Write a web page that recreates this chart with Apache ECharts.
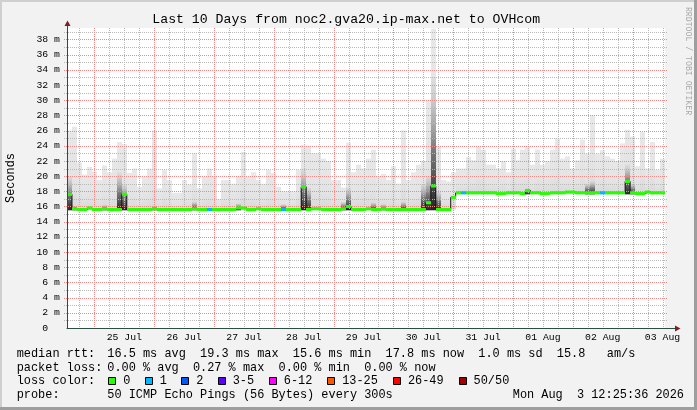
<!DOCTYPE html>
<html>
<head>
<meta charset="utf-8">
<script src="https://cdn.jsdelivr.net/npm/echarts@6.0.0/dist/echarts.min.js"></script>
<style>
html,body{margin:0;padding:0;background:#f2f2f2;}
#c{width:697px;height:410px;}
</style>
</head>
<body>
<div id="c"></div>
<script>
// ---------- data ----------
const dayLabels = ['25 Jul','26 Jul','27 Jul','28 Jul','29 Jul','30 Jul','31 Jul','01 Aug','02 Aug','03 Aug'];
const totalHours = 240;        // 10 days
const stepHours = 2;           // each sample covers 2 hours
const firstMidnightHour = 11;  // hours from chart start to 25 Jul 00:00
const yMax = 39.5;             // ms

// upper edge of the smoke (max ping), ms
const smokeTop = [
26,26.5,21.8,20.2,21.2,20.6,19.5,21.4,20.5,22.3,
24.5,24.2,20.4,21,18.6,19.9,21,26,18.4,20.8,
19.5,17.8,17.8,19.5,18.9,23,18.4,19.9,21,20,
17,19.5,19.5,19,20,23.2,19.9,20.5,19.5,19,
20.8,20.4,18.6,18,18,18,20.8,24.1,24,23,
23,22.3,22,19.5,19.5,18.5,24.4,20.5,21.5,21,
22.3,23.5,20,20.3,19.5,21.3,19,26,19.5,20.5,
21.5,22,30,39.4,24,19.5,19.3,20.5,21,21,
22.5,22.1,23.9,23.5,21.5,21.5,21,22,20.5,23.6,
22.1,23.5,24,21.5,23.5,21.5,22,23.5,25,22.3,
22.6,21,22.1,24.8,23,28,22.9,23.4,22.6,22.3,
22,24.3,26.1,25.2,21.3,25.8,21,24.5,20.8,22.3];

// lower edge of the smoke (min ping), ms
const smokeLow = [
15.5,15.5,15.5,15.5,15.5,15.5,15.5,15.5,15.5,15.5,
15.5,15.5,15.5,15.5,15.5,15.5,15.5,15.5,15.5,15.5,
15.5,15.5,15.5,15.5,15.5,15.5,15.5,15.5,15.5,15.5,
15.5,15.5,15.5,15.5,15.5,15.5,15.5,15.5,15.5,15.5,
15.5,15.5,15.5,15.5,15.5,15.5,15.5,15.5,15.5,15.5,
15.5,15.5,15.5,15.5,15.5,15.5,15.5,15.5,15.5,15.5,
15.5,15.5,15.5,15.5,15.5,15.5,15.5,15.5,15.5,15.5,
15.5,15.5,15.5,15.5,15.5,15.5,15.5,15.6,17.6,17.6,
17.6,17.6,17.6,17.6,17.6,17.6,17.6,17.6,17.6,17.6,
17.6,17.6,17.6,17.6,17.6,17.6,17.6,17.6,17.6,17.6,
17.6,17.6,17.6,17.6,17.6,17.6,17.6,17.6,17.6,17.6,
17.6,17.6,17.6,17.6,17.6,17.6,17.6,17.6,17.6,17.6];

// top of the dense (dark) part of the smoke, ms (0 = none)
const darkTop = [
20,16.1,0,0,0,0,0,16.2,0,0,
20.5,19,0,0,0,0,0,16.1,0,0,
0,0,0,0,0,16.6,0,0,0,0,
0,0,0,0,16.4,0,0,0,0,0,
0,0,0,16.3,0,0,0,21,18.5,0,
0,0,0,0,0,16.6,18.5,0,0,0,
0,16.5,0,16.3,0,0,0,16.6,0,0,
0,19,20,33,18,0,0,0,0,0,
0,0,0,0,0,0,0,0,0,0,
0,0,18.4,0,0,0,0,0,0,0,
0,0,0,0,19.0,19.3,0,0,0,0,
0,0,21.5,19,0,0,0,0,0,0];

// median rtt, ms
const median = [
17.6,15.7,15.6,15.6,15.8,15.6,15.6,15.7,15.6,15.6,
15.6,17.6,15.6,15.6,15.6,15.6,15.6,15.7,15.6,15.6,
15.6,15.6,15.6,15.6,15.6,15.7,15.6,15.6,15.6,15.6,
15.6,15.6,15.6,15.6,15.8,15.8,15.6,15.6,15.7,15.6,
15.6,15.6,15.6,15.6,15.6,15.6,15.6,18.6,15.6,15.7,
15.7,15.6,15.6,15.6,15.6,15.7,16.0,15.6,15.6,15.6,
15.7,15.6,15.6,15.7,15.6,15.6,15.6,15.6,15.6,15.6,
15.6,15.6,16.5,18.7,15.6,15.6,15.6,17.2,17.8,17.8,
17.8,17.8,17.8,17.8,17.8,17.8,17.7,17.7,17.8,17.8,
17.8,17.7,18.1,17.8,17.8,17.7,17.7,17.8,17.8,17.8,
17.9,17.9,17.8,17.8,17.8,17.8,17.8,17.8,17.8,17.8,
17.8,17.8,19.3,17.8,17.7,17.7,17.9,17.8,17.8,17.8];

// lost pings per sample (of 50)
const lossCount = [
0,0,0,0,0,0,0,0,0,0,
0,0,0,0,0,0,0,0,0,0,
0,0,0,0,0,0,0,0,1,0,
0,0,0,0,0,0,0,0,0,0,
0,0,0,1,0,0,0,0,0,0,
0,0,0,0,0,0,0,0,0,0,
0,0,0,0,0,0,0,0,0,0,
0,0,0,0,0,0,0,0,0,1,
0,0,0,0,0,0,0,0,0,0,
0,0,0,0,0,0,0,0,0,0,
0,0,0,0,0,0,0,1,0,0,
0,0,0,0,0,0,0,0,0,0];

const lossLabels = ['0','1','2','3-5','6-12','13-25','26-49','50/50'];
const lossColors = ['#26ff00','#00b8ff','#0059ff','#5e00ff','#ff00ff','#ff5500','#ff0000','#a10000'];

const titleText = 'Last 10 Days from noc2.gva20.ip-max.net to OVHcom';
const legendRows = [
  ['median rtt:', '16.5 ms avg  19.3 ms max  15.6 ms min  17.8 ms now  1.0 ms sd  15.8   am/s'],
  ['packet loss:', '0.00 % avg  0.27 % max  0.00 % min  0.00 % now'],
  ['loss color:', ''],
  ['probe:', '50 ICMP Echo Pings (56 Bytes) every 300s']
];
const stampText = 'Mon Aug  3 12:25:36 2026';

// ---------- styles ----------
const FONT = 'Liberation Mono';
const AXIS = '#2c4d43', ARROW = '#7f1f1f';
const GRIDC = '#b8b8b8', MGRIDC = '#ec8a8a';

function lossBucket(n){
  if (n <= 0) return 0; if (n === 1) return 1; if (n === 2) return 2;
  if (n <= 5) return 3; if (n <= 12) return 4; if (n <= 25) return 5;
  if (n <= 49) return 6; return 7;
}

const rows = smokeTop.map((hi, i) => [i*stepHours, (i+1)*stepHours, smokeLow[i], hi, darkTop[i], median[i], lossCount[i]]);
const medLine = median.map((m, i) => [i*stepHours + stepHours/2, m]);

// grid lines: [orientation (0 = vertical, 1 = horizontal), value, major]
const gridRows = [];
for (let h = 5; h < totalHours; h += 6) gridRows.push([0, h, (h - firstMidnightHour) % 24 === 0 ? 1 : 0]);
for (let v = 1; v < yMax; v += 1) gridRows.push([1, v, v % 2 === 0 ? 1 : 0]);
gridRows.sort((a, b) => a[2] - b[2]);

const hours = [];
for (let h = 0; h <= totalHours; h++) hours.push(String(h));
const labelAt = {};
dayLabels.forEach((d, k) => { labelAt[firstMidnightHour + 12 + 24*k] = d; });

const G = echarts.graphic;
function smokeFill(){
  return new G.LinearGradient(0,1,0,0,[
    {offset:0,color:'#d8d8d8'},{offset:0.35,color:'#e3e3e3'},{offset:1,color:'#e8e8e8'}]);
}
function darkFill(){
  return new G.LinearGradient(0,1,0,0,[
    {offset:0,color:'rgba(20,20,20,0.92)'},{offset:0.45,color:'rgba(75,75,75,0.7)'},{offset:1,color:'rgba(160,160,160,0.1)'}]);
}

const chart = echarts.init(document.getElementById('c'), null, {renderer:'canvas', width:697, height:410});

// legend graphics
const legendEls = [];
const rowY = [353.5, 367.5, 381.3, 395.3];
legendRows.forEach((r, k) => {
  legendEls.push({type:'text', x:16.7, y:rowY[k], z:10, silent:true,
    style:{text:r[0], fontFamily:FONT, fontSize:11.9, fill:'#000', align:'left', verticalAlign:'middle'}});
  if (r[1]) legendEls.push({type:'text', x:107.3, y:rowY[k], z:10, silent:true,
    style:{text:r[1], fontFamily:FONT, fontSize:11.9, fill:'#000', align:'left', verticalAlign:'middle'}});
});
let cum = 0;
lossLabels.forEach((lab, k) => {
  const bx = 108.4 + 7.3*cum;
  legendEls.push({type:'rect', z:10, silent:true, shape:{x:Math.round(bx)+0.5, y:377.5, width:7, height:7},
    style:{fill:lossColors[k], stroke:'#000', lineWidth:1}});
  legendEls.push({type:'text', x:bx+14.8, y:rowY[2], z:10, silent:true,
    style:{text:lab, fontFamily:FONT, fontSize:11.9, fill:'#000', align:'left', verticalAlign:'middle'}});
  cum += lab.length + 4;
});
legendEls.push({type:'text', x:684, y:rowY[3], z:10, silent:true,
  style:{text:stampText, fontFamily:FONT, fontSize:11.9, fill:'#000', align:'right', verticalAlign:'middle'}});

const option = {
  animation:false,
  backgroundColor:'#f2f2f2',
  grid:{left:67, top:28, right:32, bottom:82, show:true, backgroundColor:'#ffffff', borderWidth:0},
  xAxis:[
    {type:'value', min:0, max:totalHours, show:false, splitLine:{show:false}},
    {type:'category', data:hours, boundaryGap:false, position:'bottom', z:5,
      axisLine:{show:true, onZero:false, lineStyle:{color:AXIS, width:1}},
      axisTick:{show:false},
      axisLabel:{show:true, interval:(i)=> labelAt[i] !== undefined,
        formatter:(v)=> labelAt[Number(v)] || '', fontFamily:FONT, fontSize:9.8, color:'#000', margin:4},
      splitLine:{show:false}}
  ],
  yAxis:[
    {type:'value', min:0, max:yMax, interval:2, position:'left', z:5,
      axisLine:{show:true, lineStyle:{color:AXIS, width:1}},
      axisTick:{show:false},
      axisLabel:{formatter:(v)=> v===0 ? '0  ' : (v%2===0 ? v+' m' : ''), fontFamily:FONT, fontSize:9.8, color:'#000', margin:7},
      splitLine:{show:false}}
  ],
  series:[
    {type:'custom', name:'smoke', xAxisIndex:0, yAxisIndex:0, z:1, silent:true, clip:true,
      data:rows, encode:{x:[0,1], y:[2,3]},
      renderItem:(params, api)=>{
        const x0 = api.value(0), x1 = api.value(1), lo = api.value(2), hi = api.value(3), dk = api.value(4);
        const a = api.coord([x0, hi]), b = api.coord([x1, lo]);
        const L = Math.round(a[0]), R = Math.round(b[0]);
        const ch = [{type:'rect', shape:{x:L, y:a[1], width:R-L, height:b[1]-a[1]}, style:{fill:smokeFill()}}];
        if (dk > lo) {
          const c = api.coord([x0, dk]);
          ch.push({type:'rect', shape:{x:L, y:c[1], width:R-L, height:b[1]-c[1]}, style:{fill:darkFill()}});
        }
        return {type:'group', children:ch};
      }},
    {type:'custom', name:'grid', xAxisIndex:0, yAxisIndex:0, z:2, silent:true, clip:false,
      data:gridRows, encode:{x:1},
      renderItem:(params, api)=>{
        const o = api.value(0), v = api.value(1), major = api.value(2);
        let shape;
        if (o === 0) {
          const a = api.coord([v, 0]), b = api.coord([v, yMax]);
          const x = Math.round(a[0]) + 0.5;
          shape = {x1:x, y1:Math.round(b[1]), x2:x, y2:Math.round(a[1])};
        } else {
          const a = api.coord([0, v]), b = api.coord([totalHours, v]);
          const y = Math.round(a[1]) + 0.5;
          shape = {x1:Math.round(a[0])-3, y1:y, x2:Math.round(b[0])+2, y2:y};
        }
        return {type:'line', shape:shape, style:{stroke: major ? MGRIDC : GRIDC, lineWidth:1, lineDash:[1,1]}};
      }},
    {type:'line', name:'median line', xAxisIndex:0, yAxisIndex:0, z:3, silent:true,
      data:medLine, step:'middle', showSymbol:false, symbol:'none',
      lineStyle:{color:'#151515', width:1}},
    {type:'custom', name:'median', xAxisIndex:0, yAxisIndex:0, z:4, silent:true, clip:true,
      data:rows, encode:{x:[0,1], y:5},
      renderItem:(params, api)=>{
        const x0 = api.value(0), x1 = api.value(1), m = api.value(5), n = api.value(6);
        const a = api.coord([x0, m + 0.2]), b = api.coord([x1, m - 0.2]);
        const L = Math.round(a[0]), R = Math.round(b[0]);
        return {type:'rect', shape:{x:L, y:a[1], width:R-L, height:b[1]-a[1]}, style:{fill:lossColors[lossBucket(n)]}};
      }}
  ],
  graphic:{elements:[
    {type:'rect', z:10, silent:true, shape:{x:0,y:0,width:697,height:2}, style:{fill:'#cfcfcf'}},
    {type:'rect', z:10, silent:true, shape:{x:0,y:0,width:2,height:410}, style:{fill:'#cfcfcf'}},
    {type:'rect', z:10, silent:true, shape:{x:0,y:407,width:697,height:3}, style:{fill:'#9e9e9e'}},
    {type:'rect', z:10, silent:true, shape:{x:694,y:0,width:3,height:410}, style:{fill:'#9e9e9e'}},
    {type:'line', z:10, silent:true, shape:{x1:67.5,y1:28,x2:67.5,y2:24}, style:{stroke:AXIS, lineWidth:1}},
    {type:'polygon', z:10, silent:true, shape:{points:[[67.5,20.5],[64.5,26],[70.5,26]]}, style:{fill:ARROW}},
    {type:'line', z:10, silent:true, shape:{x1:665,y1:328.5,x2:675,y2:328.5}, style:{stroke:AXIS, lineWidth:1}},
    {type:'polygon', z:10, silent:true, shape:{points:[[680.5,328.5],[675,325.5],[675,331.5]]}, style:{fill:ARROW}},
    {type:'text', z:10, silent:true, x:152.3, y:19.2,
      style:{text:titleText, fontFamily:FONT, fontSize:13.2, fill:'#000', align:'left', verticalAlign:'middle'}},
    {type:'text', z:10, silent:true, x:11, y:178, rotation:Math.PI/2,
      style:{text:'Seconds', fontFamily:FONT, fontSize:11.9, fill:'#000', align:'center', verticalAlign:'middle'}},
    {type:'text', z:10, silent:true, x:688.5, y:61, rotation:-Math.PI/2,
      style:{text:'RRDTOOL / TOBI OETIKER', fontFamily:FONT, fontSize:8.2, fill:'#aaaaaa', align:'center', verticalAlign:'middle'}}
  ].concat(legendEls)}
};
chart.setOption(option);
</script>
</body>
</html>
